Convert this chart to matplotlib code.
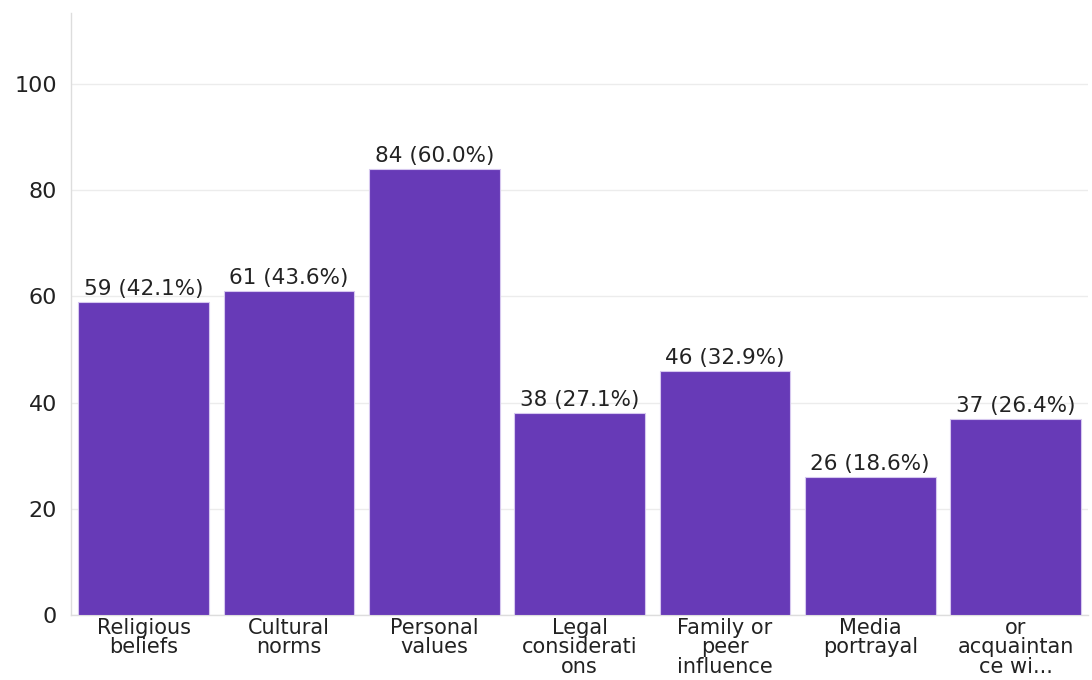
import matplotlib
matplotlib.use("Agg")
import matplotlib.pyplot as plt

categories = [
    "Religious\nbeliefs",
    "Cultural\nnorms",
    "Personal\nvalues",
    "Legal\nconsiderati\nons",
    "Family or\npeer\ninfluence",
    "Media\nportrayal",
    "or\nacquaintan\nce wi...",
]
counts = [59, 61, 84, 38, 46, 26, 37]
percents = [42.1, 43.6, 60.0, 27.1, 32.9, 18.6, 26.4]
y_ticks = [0, 20, 40, 60, 80, 100]

bar_color = "#673ab7"
text_color = "#222222"
grid_color = "#ececec"

plt.rcParams["font.family"] = ["DejaVu Sans"]

fig = plt.figure(figsize=(10.92, 6.80), dpi=100)
ax = fig.add_axes([0.065, 0.0956, 0.9315, 0.8854])

x = list(range(len(categories)))
ax.bar(x, counts, width=0.9, color=bar_color, edgecolor="#d6c8ef",
       linewidth=0.8, zorder=3)

for xi, c, p in zip(x, counts, percents):
    ax.annotate(f"{c} ({p:.1f}%)", (xi, c), xytext=(0, 2),
                textcoords="offset points", ha="center", va="bottom",
                fontsize=15.5, color=text_color, zorder=4)

ax.set_xlim(-0.5, len(categories) - 0.5)
ax.set_ylim(0, 113.4)
ax.set_yticks(y_ticks)
ax.set_xticks(x)
ax.set_xticklabels(categories, fontsize=15, color=text_color,
                   linespacing=0.98)
ax.tick_params(axis="y", labelsize=16, colors=text_color, length=0, pad=10)
ax.tick_params(axis="x", length=0, pad=2)

ax.grid(axis="y", color=grid_color, linewidth=1, zorder=0)
ax.set_axisbelow(True)
for side in ("top", "right"):
    ax.spines[side].set_visible(False)
for side in ("left", "bottom"):
    ax.spines[side].set_color("#dddddd")
    ax.spines[side].set_linewidth(1)

fig.savefig("out.png", dpi=100, facecolor="white")
